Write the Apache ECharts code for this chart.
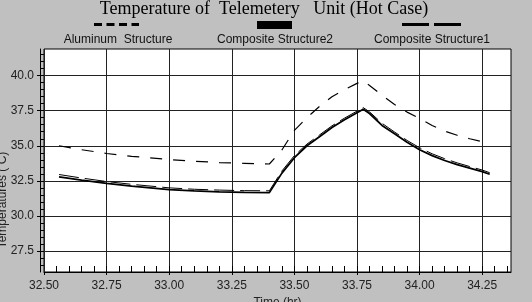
<!DOCTYPE html>
<html>
<head>
<meta charset="utf-8">
<script src="https://cdn.jsdelivr.net/npm/echarts@6/dist/echarts.min.js"></script>
<style>
  body { margin: 0; }
  #chart { width: 532px; height: 302px; }
</style>
</head>
<body>
<div id="chart"></div>
<script>
// time in hours, shared by the three curves
const times = [32.56, 32.65, 32.75, 32.85, 33.0, 33.1, 33.2, 33.3, 33.4, 33.45, 33.5, 33.55, 33.6, 33.65,
  33.7, 33.75, 33.775, 33.8, 33.85, 33.9, 33.95, 34.0, 34.05, 34.1, 34.15, 34.2, 34.25, 34.28]

const aluminum = [35.0, 34.72, 34.45, 34.25, 34.02, 33.9, 33.8, 33.75, 33.7, 34.7, 36.1, 37.0, 37.8, 38.5,
  39.0, 39.45, 39.65, 39.3, 38.6, 37.95, 37.4, 36.95, 36.45, 36.05, 35.75, 35.5, 35.3, null]

const composite2 = [32.78, 32.55, 32.32, 32.12, 31.88, 31.78, 31.72, 31.68, 31.66, 33.05, 34.15, 35.0, 35.65, 36.3,
  36.85, 37.35, 37.6, 37.3, 36.45, 35.85, 35.25, 34.72, 34.3, 33.95, 33.65, 33.4, 33.15, 32.97]

const composite1 = [32.95, 32.7, 32.45, 32.25, 32.0, 31.9, 31.84, 31.8, 31.79, 33.2, 34.3, 35.12, 35.77, 36.42,
  36.97, 37.47, 37.72, 37.42, 36.6, 35.98, 35.38, 34.86, 34.43, 34.08, 33.78, 33.52, 33.27, 33.08]

const xTicks = [32.5, 32.75, 33.0, 33.25, 33.5, 33.75, 34.0, 34.25]
const yTicks = [27.5, 30.0, 32.5, 35.0, 37.5, 40.0]

// minor tick positions
const xMinor = []
for (let i = 1; i <= 37; i++) xMinor.push(+(32.5 + i * 0.05).toFixed(2))
const yMinor = []
for (let i = 1; i <= 31; i++) yMinor.push(+(26 + i * 0.5).toFixed(1))

const toPairs = arr => times.map((t, i) => [t, arr[i]]).filter(p => p[1] != null)

const sans = 'Liberation Sans, Arial, sans-serif'
const myChart = echarts.init(document.getElementById('chart'))
myChart.setOption({
  backgroundColor: '#c0c0c0',
  animation: false,
  title: {
    text: 'Temperature of  Telemetery   Unit (Hot Case)',
    left: 264,
    textAlign: 'center',
    top: 0,
    padding: 0,
    textStyle: { fontFamily: 'Liberation Serif, Times New Roman, serif', fontSize: 18, fontWeight: 'normal', color: '#000' }
  },
  grid: {
    left: 44, right: 21, top: 49, bottom: 30,
    outerBoundsMode: 'none',
    show: true, backgroundColor: '#fff', borderColor: '#000', borderWidth: 1
  },
  xAxis: [
    {
      type: 'value', position: 'bottom', min: 32.5, max: 34.365,
      name: 'Time (hr)', nameLocation: 'middle', nameGap: 21,
      nameTextStyle: { fontFamily: sans, fontSize: 12, color: '#222' },
      axisLine: { lineStyle: { color: '#000' } },
      axisTick: { customValues: xTicks, length: 3, lineStyle: { color: '#000' } },
      axisLabel: { customValues: xTicks, formatter: v => v.toFixed(2), margin: 8, fontFamily: sans, fontSize: 12, color: '#222' },
      splitLine: { show: true, lineStyle: { color: '#222', width: 1 } }
    },
    {
      type: 'value', position: 'bottom', min: 32.5, max: 34.365,
      axisLine: { show: false },
      axisTick: { customValues: xMinor, inside: true, length: 6, lineStyle: { color: '#000' } },
      axisLabel: { show: false },
      splitLine: { show: false }
    }
  ],
  yAxis: [
    {
      type: 'value', position: 'left', min: 26.0, max: 41.9, offset: 4,
      axisLine: { show: true, lineStyle: { color: '#000' } },
      axisTick: { show: true, customValues: yTicks, length: 3, lineStyle: { color: '#000' } },
      axisLabel: { customValues: yTicks, formatter: v => v.toFixed(1), margin: 6, fontFamily: sans, fontSize: 12, color: '#222' },
      splitLine: { show: true, lineStyle: { color: '#222', width: 1 } }
    },
    {
      type: 'value', position: 'left', min: 26.0, max: 41.9, offset: 4,
      axisLine: { show: false },
      axisTick: { show: true, customValues: yMinor, inside: true, length: 4, lineStyle: { color: '#000' } },
      axisLabel: { show: false },
      splitLine: { show: false }
    }
  ],
  graphic: [
    { type: 'line', shape: { x1: 94, y1: 24.5, x2: 139, y2: 24.5 }, style: { stroke: '#000', lineWidth: 3, lineDash: [8, 4.5] } },
    { type: 'rect', shape: { x: 257, y: 21, width: 35, height: 8 }, style: { fill: '#000' } },
    { type: 'line', shape: { x1: 402, y1: 24.5, x2: 461, y2: 24.5 }, style: { stroke: '#000', lineWidth: 3, lineDash: [27, 5] } },
    { type: 'text', x: 118, y: 40, style: { text: 'Aluminum  Structure', align: 'center', verticalAlign: 'middle', fontFamily: sans, fontSize: 12, fill: '#111' } },
    { type: 'text', x: 275, y: 40, style: { text: 'Composite Structure2', align: 'center', verticalAlign: 'middle', fontFamily: sans, fontSize: 12, fill: '#111' } },
    { type: 'text', x: 432, y: 40, style: { text: 'Composite Structure1', align: 'center', verticalAlign: 'middle', fontFamily: sans, fontSize: 12, fill: '#111' } },
    { type: 'text', x: 3, y: 200, rotation: Math.PI / 2, style: { text: 'Temperatures ( C)', align: 'center', verticalAlign: 'middle', fontFamily: sans, fontSize: 12, fill: '#222' } }
  ],
  series: [
    {
      name: 'Aluminum  Structure', type: 'line', showSymbol: false, symbol: 'none',
      data: toPairs(aluminum),
      lineStyle: { color: '#000', width: 1.2, type: [12, 11] }
    },
    {
      name: 'Composite Structure2', type: 'line', showSymbol: false, symbol: 'none',
      data: toPairs(composite2),
      lineStyle: { color: '#000', width: 1.8 }
    },
    {
      name: 'Composite Structure1', type: 'line', showSymbol: false, symbol: 'none',
      data: toPairs(composite1),
      lineStyle: { color: '#000', width: 1, type: [20, 6] }
    }
  ]
})
</script>
</body>
</html>
